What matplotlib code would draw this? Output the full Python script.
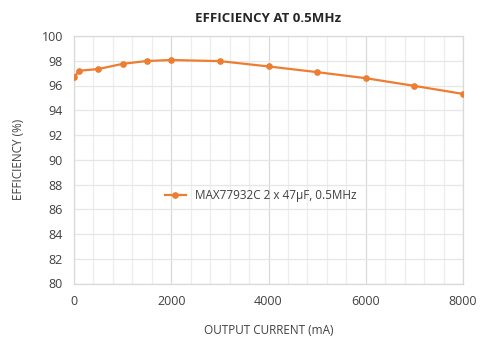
import matplotlib.pyplot as plt
import numpy as np

plt.rcParams['font.family'] = ['Open Sans', 'DejaVu Sans']

current = [10, 100, 500, 1000, 1500, 2000, 3000, 4000, 5000, 6000, 7000, 8000]
efficiency = [96.68, 97.19, 97.33, 97.75, 97.98, 98.06, 97.97, 97.54, 97.08, 96.59, 95.97, 95.32]
label = "MAX77932C 2 x 47µF, 0.5MHz"

orange = "#ED7D31"
text_col = "#404040"

fig = plt.figure(figsize=(4.83, 3.5), dpi=100)
ax = fig.add_axes([74/483, 1 - 283.5/350, 389/483, 247.5/350])

ax.plot(current, efficiency, color=orange, lw=1.6, marker='o', ms=3.8, label=label, zorder=3)

ax.set_xlim(0, 8000)
ax.set_ylim(80, 100)
ax.set_xticks(np.arange(0, 8001, 2000))
ax.set_xticks(np.arange(0, 8001, 400), minor=True)
ax.set_yticks(np.arange(80, 101, 2))

ax.grid(which='minor', axis='x', color='#EDEDED', lw=0.9)
ax.grid(which='major', axis='x', color='#D9D9D9', lw=0.9)
ax.grid(which='major', axis='y', color='#E6E6E6', lw=0.9)
ax.tick_params(which='both', length=0, labelsize=9, colors=text_col, pad=8)
for s in ax.spines.values():
    s.set_color('#D9D9D9')
    s.set_linewidth(0.9)

ax.set_title("EFFICIENCY AT 0.5MHz", fontsize=9.5, fontweight='bold', color='#262626', pad=10)
ax.set_xlabel("OUTPUT CURRENT (mA)", fontsize=8.5, color=text_col, labelpad=12)
ax.set_ylabel("EFFICIENCY (%)", fontsize=8.5, color=text_col, labelpad=12)

ax.legend(loc='center', bbox_to_anchor=(0.48, 0.355), frameon=False, fontsize=8.5,
          labelcolor=text_col, handlelength=1.8)

fig.savefig("out.png", dpi=100)
